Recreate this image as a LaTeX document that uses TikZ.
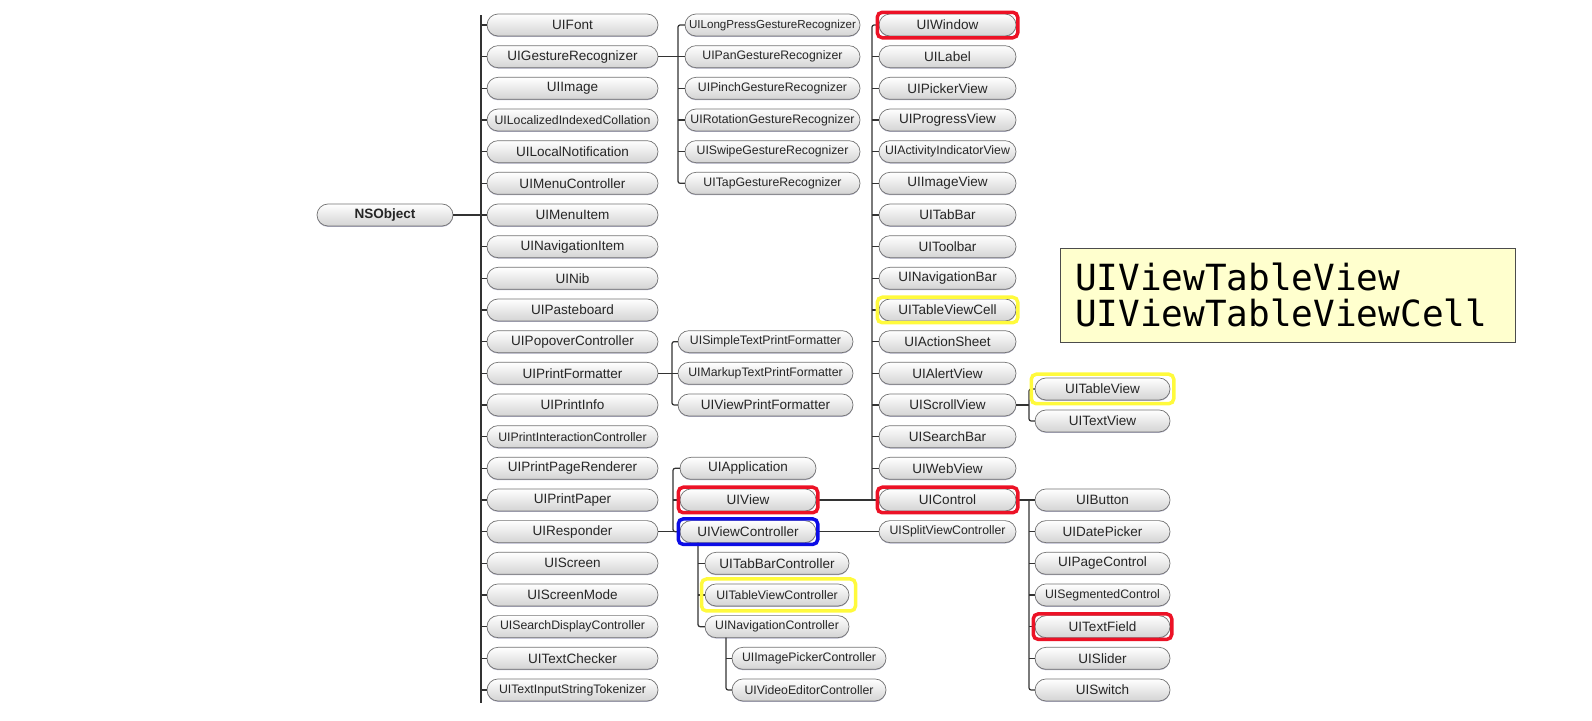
\documentclass[tikz,border=0pt]{standalone}
\usepackage{fontspec}
\setmainfont{Liberation Sans}
\newfontfamily\codefont{DejaVu Sans Mono}
\usetikzlibrary{positioning,calc,fit,shadows}
\definecolor{hlred}{RGB}{236,18,38}
\definecolor{hlblue}{RGB}{12,12,230}
\definecolor{hlyellow}{RGB}{255,250,60}
\definecolor{notefill}{RGB}{255,255,206}
\tikzset{
  cls/.style    ={draw=black!55, rounded corners=2.2mm, line width=.4pt,
                  top color=white, bottom color=black!17, text=black!85,
                  minimum height=4.4mm, inner ysep=0pt, inner xsep=1pt, outer sep=0pt,
                  font=\fontsize{7.7}{8}\selectfont,
                  drop shadow={shadow xshift=0pt, shadow yshift=-.5pt,
                               fill=blue!30!black!45, opacity=.7}},
  tight/.style  ={font=\fontsize{7}{8}\selectfont},
  tighter/.style={font=\fontsize{6.6}{8}\selectfont},
  root/.style   ={cls, minimum width=27.2mm, font=\fontsize{7.7}{8}\selectfont\bfseries},
  kidA/.style   ={cls, minimum width=34.2mm},
  kidG/.style   ={cls, minimum width=35mm},
  kidR/.style   ={cls, minimum width=27.2mm},
  kidC/.style   ={cls, minimum width=28.8mm},
  kidN/.style   ={cls, minimum width=30.8mm},
  kidV/.style   ={cls, minimum width=27.4mm},
  kidK/.style   ={cls, minimum width=27mm},
  tline/.style  ={line width=.7pt, draw=black!80, rounded corners=1.2pt},
  hl/.style     ={draw=#1, line width=.7mm, rounded corners=1mm, inner sep=.35mm},
  note/.style   ={draw=black!70, line width=.5pt, fill=notefill, align=left,
                  font=\codefont\fontsize{20.5}{21}\selectfont,
                  text width=85mm, inner xsep=3mm, minimum height=18.8mm},
}
\begin{document}
\begin{tikzpicture}[node distance=1.933mm and 4mm]
  \useasboundingbox (0,0) rectangle (318.4mm,-144mm);

  % ---- NSObject subclasses ----
  \node[kidA] (font) at (114.5mm,-5mm) {UIFont};
  \node[kidA, below=of font] (gesture) {UIGestureRecognizer};
  \node[kidA, below=of gesture] (image) {UIImage};
  \node[kidA, tight, below=of image] (collation) {UILocalizedIndexedCollation};
  \node[kidA, below=of collation] (localnote) {UILocalNotification};
  \node[kidA, below=of localnote] (menuctl) {UIMenuController};
  \node[kidA, below=of menuctl] (menuitem) {UIMenuItem};
  \node[kidA, below=of menuitem] (navitem) {UINavigationItem};
  \node[kidA, below=of navitem] (nib) {UINib};
  \node[kidA, below=of nib] (paste) {UIPasteboard};
  \node[kidA, below=of paste] (popover) {UIPopoverController};
  \node[kidA, below=of popover] (printfmt) {UIPrintFormatter};
  \node[kidA, below=of printfmt] (printinfo) {UIPrintInfo};
  \node[kidA, tight, below=of printinfo] (printic) {UIPrintInteractionController};
  \node[kidA, below=of printic] (pagerend) {UIPrintPageRenderer};
  \node[kidA, below=of pagerend] (paper) {UIPrintPaper};
  \node[kidA, below=of paper] (responder) {UIResponder};
  \node[kidA, below=of responder] (screen) {UIScreen};
  \node[kidA, below=of screen] (screenmode) {UIScreenMode};
  \node[kidA, tight, below=of screenmode] (searchdc) {UISearchDisplayController};
  \node[kidA, below=of searchdc] (checker) {UITextChecker};
  \node[kidA, tight, below=of checker] (tokenizer) {UITextInputStringTokenizer};

  \node[root, left=6.8mm of menuitem] (nsobject) {NSObject};

  % ---- gesture recognizers ----
  \node[kidG, tighter, right=5.4mm of font] (longpress) {UILongPressGestureRecognizer};
  \node[kidG, tight, below=of longpress] (pan) {UIPanGestureRecognizer};
  \node[kidG, tight, below=of pan] (pinch) {UIPinchGestureRecognizer};
  \node[kidG, tight, below=of pinch] (rotation) {UIRotationGestureRecognizer};
  \node[kidG, tight, below=of rotation] (swipe) {UISwipeGestureRecognizer};
  \node[kidG, tight, below=of swipe] (tap) {UITapGestureRecognizer};

  % ---- print formatters ----
  \node[kidG, tight, right=4mm of popover] (simpletext) {UISimpleTextPrintFormatter};
  \node[kidG, tight, below=of simpletext] (markup) {UIMarkupTextPrintFormatter};
  \node[kidG, below=of markup] (viewprint) {UIViewPrintFormatter};

  % ---- responders ----
  \node[kidR, right=4.4mm of pagerend] (application) {UIApplication};
  \node[kidR, below=of application] (view) {UIView};
  \node[kidR, below=of view] (viewctl) {UIViewController};

  \node[kidC, below=of viewctl, xshift=5.8mm] (tabbarctl) {UITabBarController};
  \node[kidC, tight, below=of tabbarctl] (tablectl) {UITableViewController};
  \node[kidC, tight, below=of tablectl] (navctl) {UINavigationController};

  \node[kidN, tight, below=of navctl, xshift=6.4mm] (imagepicker) {UIImagePickerController};
  \node[kidN, tight, below=of imagepicker] (videoedit) {UIVideoEditorController};

  % ---- views ----
  \node[kidV, right=3.8mm of longpress] (window) {UIWindow};
  \node[kidV, below=of window] (label) {UILabel};
  \node[kidV, below=of label] (picker) {UIPickerView};
  \node[kidV, below=of picker] (progress) {UIProgressView};
  \node[kidV, tight, below=of progress] (activity) {UIActivityIndicatorView};
  \node[kidV, below=of activity] (imageview) {UIImageView};
  \node[kidV, below=of imageview] (tabbar) {UITabBar};
  \node[kidV, below=of tabbar] (toolbar) {UIToolbar};
  \node[kidV, below=of toolbar] (navbar) {UINavigationBar};
  \node[kidV, below=of navbar] (tablecell) {UITableViewCell};
  \node[kidV, below=of tablecell] (actionsheet) {UIActionSheet};
  \node[kidV, below=of actionsheet] (alert) {UIAlertView};
  \node[kidV, below=of alert] (scroll) {UIScrollView};
  \node[kidV, below=of scroll] (searchbar) {UISearchBar};
  \node[kidV, below=of searchbar] (webview) {UIWebView};
  \node[kidV, below=of webview] (control) {UIControl};
  \node[kidV, tight, below=of control] (splitvc) {UISplitViewController};

  \node[kidK, right=3.8mm of scroll, yshift=3.2mm] (tableview) {UITableView};
  \node[kidK, below=2mm of tableview] (textview) {UITextView};

  % ---- controls ----
  \node[kidK, right=3.8mm of control] (button) {UIButton};
  \node[kidK, below=of button] (datepicker) {UIDatePicker};
  \node[kidK, below=of datepicker] (pagectl) {UIPageControl};
  \node[kidK, tight, below=of pagectl] (segmented) {UISegmentedControl};
  \node[kidK, below=of segmented] (textfield) {UITextField};
  \node[kidK, below=of textfield] (slider) {UISlider};
  \node[kidK, below=of slider] (uiswitch) {UISwitch};

  \node[note] (note) at (257.5mm,-59mm) {UIViewTableView\\UIViewTableViewCell};

  % ---- connectors ----
  \coordinate (bustop) at ($(font.west)+(-1.2mm,2mm)$);
  \coordinate (busbot) at ($(tokenizer.west)+(-1.2mm,-2.6mm)$);
  \draw[tline] (bustop) -- (busbot);
  \foreach \k in {font,gesture,image,collation,localnote,menuctl,menuitem,navitem,nib,
                  paste,popover,printfmt,printinfo,printic,pagerend,paper,responder,
                  screen,screenmode,searchdc,checker,tokenizer}
    \draw[tline] (\k.west) -- ++(-1.2mm,0);
  \draw[tline] (nsobject) -- (menuitem);

  \draw[tline] (gesture) -- (pan);
  \draw[tline] (longpress.west) -- ++(-1.4mm,0) |- (tap.west);
  \draw[tline] (pan.west) -- ++(-1.4mm,0) (pinch.west) -- ++(-1.4mm,0)
               (rotation.west) -- ++(-1.4mm,0) (swipe.west) -- ++(-1.4mm,0);

  \draw[tline] (printfmt) -- (markup);
  \draw[tline] (simpletext.west) -- ++(-1.2mm,0) |- (viewprint.west);

  \draw[tline] (responder) -- (viewctl);
  \draw[tline] (application.west) -- ++(-1.4mm,0) |- (viewctl.west);
  \draw[tline] (view.west) -- ++(-1.4mm,0);

  \coordinate (vcbus) at ($(tabbarctl.west)+(-1.4mm,0)$);
  \draw[tline] (vcbus |- viewctl.south) |- (navctl.west);
  \draw[tline] (tabbarctl.west) -- (vcbus) (tablectl.west) -- (vcbus |- tablectl.west);

  \coordinate (navbus) at ($(imagepicker.west)+(-1.2mm,0)$);
  \draw[tline] (navbus |- navctl.south) |- (videoedit.west);
  \draw[tline] (imagepicker.west) -- (navbus);

  \coordinate (viewbus) at ($(window.west)+(-1.4mm,0)$);
  \draw[tline] (window.west) -- (viewbus) -- (viewbus |- control.west);
  \foreach \k in {label,picker,progress,activity,imageview,tabbar,toolbar,navbar,
                  tablecell,actionsheet,alert,scroll,searchbar,webview}
    \draw[tline] (\k.west) -- ++(-1.4mm,0);
  \draw[tline] (view) -- (control);
  \draw[tline] (viewctl) -- (splitvc);

  \coordinate (scrollbus) at ($(tableview.west)+(-1.2mm,0)$);
  \draw[tline] (scroll.east) -- (scroll.east -| scrollbus);
  \draw[tline] (tableview.west) -- (scrollbus) |- (textview.west);

  \draw[tline] (control) -- (button);
  \coordinate (ctlbus) at ($(button.west)+(-1.2mm,0)$);
  \draw[tline] (ctlbus) |- (uiswitch.west);
  \foreach \k in {datepicker,pagectl,segmented,textfield,slider}
    \draw[tline] (\k.west) -- ++(-1.2mm,0);

  % ---- highlights ----
  \node[hl=hlred, fit=(window)] (hlwindow) {};
  \node[hl=hlred, fit=(view)] (hlview) {};
  \node[hl=hlblue, fit=(viewctl)] (hlviewctl) {};
  \node[hl=hlred, fit=(control)] (hlcontrol) {};
  \node[hl=hlred, fit=(textfield)] (hltextfield) {};
  \node[hl=hlyellow, fit=(tablecell)] (hltablecell) {};
  \node[hl=hlyellow, fit=(tableview), inner sep=.75mm] (hltableview) {};
  \node[hl=hlyellow, fit=(tablectl), inner sep=1mm, xshift=.3mm] (hltablectl) {};

\end{tikzpicture}
\end{document}
